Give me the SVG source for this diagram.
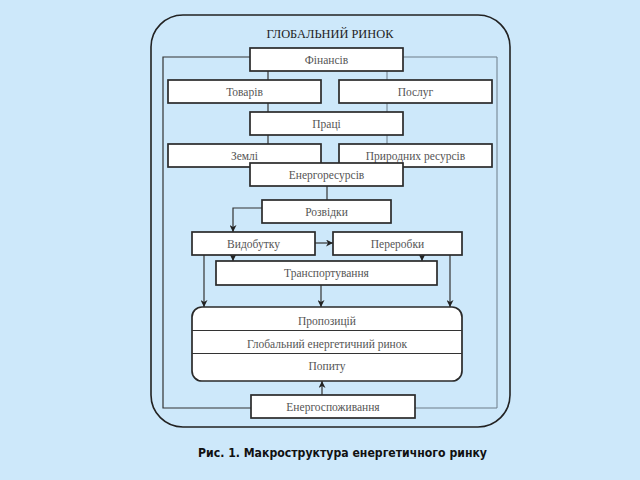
<svg xmlns="http://www.w3.org/2000/svg" width="640" height="480" viewBox="0 0 640 480">
<defs>
<marker id="ah" viewBox="0 0 10 10" refX="10" refY="5" markerWidth="7" markerHeight="7" orient="auto" markerUnits="userSpaceOnUse">
<path d="M0,0 L10,5 L0,10 L3,5 Z" fill="#222"/>
</marker>
<style>
.bx{fill:#fff;stroke:#2a2a2a;stroke-width:1.7}
.t{font-family:"Liberation Serif","DejaVu Serif",serif;font-size:11.5px;fill:#555;text-anchor:middle}
.c{fill:none;stroke:#333;stroke-width:1.2}
.cg{fill:none;stroke:#6d7c89;stroke-width:1}
.a{fill:none;stroke:#333;stroke-width:1.2;marker-end:url(#ah)}
</style>
</defs>
<rect width="640" height="480" fill="#cde8fa"/>
<rect x="151" y="15" width="359" height="412" rx="32" ry="32" fill="none" stroke="#222" stroke-width="1.6"/>
<text x="330" y="38" font-family="Liberation Serif,DejaVu Serif,serif" font-size="11.5" fill="#222" text-anchor="middle" textLength="127" lengthAdjust="spacingAndGlyphs">ГЛОБАЛЬНИЙ РИНОК</text>
<g id="connectors">
<polyline class="c" points="250,57 163,57 163,408 251,408"/>
<polyline class="cg" points="403,57 497,57 497,408 415,408"/>
<line class="c" x1="268" y1="71" x2="268" y2="144"/>
<line class="cg" x1="387" y1="71" x2="387" y2="144"/>
<line class="c" x1="327" y1="186" x2="327" y2="200"/>
<polyline class="a" points="262,208 233,208 233,232"/>
<line class="a" x1="315" y1="243" x2="333" y2="243"/>
<line class="a" x1="233" y1="255" x2="233" y2="261"/>
<line class="a" x1="422" y1="255" x2="422" y2="261"/>
<line class="a" x1="204" y1="255" x2="204" y2="307"/>
<line class="a" x1="321" y1="285" x2="321" y2="307"/>
<line class="a" x1="450" y1="255" x2="450" y2="307"/>
<line class="a" x1="322" y1="395" x2="322" y2="381"/>
</g>
<g id="n-finansiv"><rect class="bx" x="250" y="48" width="153" height="23"/><text class="t" x="326.5" y="63.5">Фінансів</text></g>
<g id="n-tovariv"><rect class="bx" x="168" y="80" width="153" height="23"/><text class="t" x="244.5" y="95.5">Товарів</text></g>
<g id="n-posluh"><rect class="bx" x="339" y="80" width="153" height="23"/><text class="t" x="415.5" y="95.5">Послуг</text></g>
<g id="n-pratsi"><rect class="bx" x="250" y="112" width="153" height="23"/><text class="t" x="326.5" y="127.5">Праці</text></g>
<g id="n-zemli"><rect class="bx" x="168" y="144" width="153" height="23"/><text class="t" x="244.5" y="159.5">Землі</text></g>
<g id="n-pryrodnykh"><rect class="bx" x="339" y="144" width="153" height="23"/><text class="t" x="415.5" y="159.5">Природних ресурсів</text></g>
<g id="n-enerhoresursiv"><rect class="bx" x="250" y="163" width="153" height="23"/><text class="t" x="326.5" y="178.5">Енергоресурсів</text></g>
<g id="n-rozvidky"><rect class="bx" x="262" y="200" width="129" height="23"/><text class="t" x="326.5" y="215.5">Розвідки</text></g>
<g id="n-vydobutku"><rect class="bx" x="192" y="232" width="123" height="23"/><text class="t" x="253.5" y="247.5">Видобутку</text></g>
<g id="n-pererobky"><rect class="bx" x="333" y="232" width="129" height="23"/><text class="t" x="397.5" y="247.5">Переробки</text></g>
<g id="n-transport"><rect class="bx" x="216" y="261" width="221" height="24"/><text class="t" x="326.5" y="277">Транспортування</text></g>
<g id="n-global">
<rect class="bx" x="192" y="307" width="270" height="74" rx="10" ry="10"/>
<line x1="192" y1="330.5" x2="462" y2="330.5" stroke="#333" stroke-width="1.2"/>
<line x1="192" y1="353.5" x2="462" y2="353.5" stroke="#333" stroke-width="1.2"/>
<text class="t" x="327" y="324.5">Пропозицій</text>
<text class="t" x="327" y="347.5">Глобальний енергетичний ринок</text>
<text class="t" x="327" y="370">Попиту</text>
</g>
<g id="n-enerhospozhyvannia"><rect class="bx" x="251" y="395" width="164" height="23"/><text class="t" x="333" y="410.5">Енергоспоживання</text></g>
<text x="198" y="457" font-family="DejaVu Sans,Verdana,sans-serif" font-weight="bold" font-size="13" fill="#111" textLength="289" lengthAdjust="spacingAndGlyphs">Рис. 1. Макроструктура енергетичного ринку</text>
</svg>
